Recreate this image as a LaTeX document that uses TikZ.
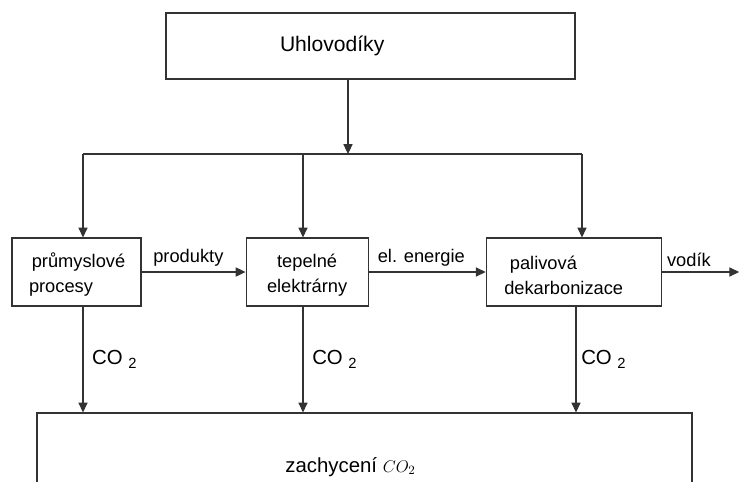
\documentclass[tikz,border=0pt]{standalone}
\usepackage{fontspec}
\setmainfont{Liberation Sans}
\usepackage{tikz}
\usetikzlibrary{positioning,arrows.meta}
\tikzstyle{block} = [rectangle, draw=black!80, line width=0.8pt, minimum height=1.7cm, font=\fontsize{13}{18}\selectfont]
\tikzstyle{arrow} = [line width=0.8pt, draw=black!80, -{Triangle[length=7pt,width=6.5pt]}]
\tikzstyle{line} = [line width=0.8pt, draw=black!80]
\tikzstyle{flowlabel} = [font=\fontsize{13}{16}\selectfont]
\tikzstyle{colabel} = [font=\fontsize{14.5}{17}\selectfont, xshift=0.1cm]
\newcommand{\cotwo}{CO \raisebox{-2.6pt}{\fontsize{10.5}{12}\selectfont 2}}

\begin{document}
\begin{tikzpicture}
\useasboundingbox (0,0) rectangle (18.5,-12.025);
\clip (0,0) rectangle (18.5,-12.025);
% boxes
\node (hc) [block, minimum width=10.225cm, minimum height=1.65cm, inner xsep=0pt, text width=10.225cm, align=left, font=\fontsize{15}{18}\selectfont] at (9.2625,-1.15) {\hspace*{2.85cm}Uhlovodíky};
\node (pp) [block, minimum width=3.225cm, inner xsep=0.425cm, text width=2.375cm, align=left, text height=14pt] at (1.9125,-6.8) {\hspace*{2pt}průmyslové\\procesy};
\node (te) [block, minimum width=3.05cm, inner xsep=0.3cm, text width=2.45cm, align=center, text height=14pt, right=2.6cm of pp] {tepelné\\elektrárny};
\node (pd) [block, minimum width=4.375cm, inner xsep=0.45cm, text width=3.475cm, align=left, text height=14pt, right=2.925cm of te] {\hspace*{4pt}palivová\\dekarbonizace};
\node (zc) [block, minimum width=16.375cm, minimum height=2.7cm, font=\fontsize{14.5}{18}\selectfont] at (9.1125,-11.675) {zachycení {\fontsize{13}{16}\selectfont$CO_2$}\hspace*{0.7cm}};
% branch points
\coordinate (busC) at (8.7,-3.85);
\coordinate (busL) at (2.075,-3.85);
\coordinate (busM) at (7.575,-3.85);
\coordinate (busR) at (14.55,-3.85);
\coordinate (coR) at (14.4,-3.85);
\coordinate (out) at (18.48,-6.8);
% connectors
\draw[arrow] (busC |- hc.south) -- (busC);
\draw[line] (busL) -- (busR);
\draw[arrow] (busL) -- (busL |- pp.north);
\draw[arrow] (busM) -- (busM |- te.north);
\draw[arrow] (busR) -- (busR |- pd.north);
\draw[arrow] (pp) -- node[flowlabel, above, pos=0.45]{produkty} (te);
\draw[arrow] (te) -- node[flowlabel, above, pos=0.45]{el. energie} (pd);
\draw[arrow] (pd) -- node[flowlabel, above, pos=0.35]{vodík} (out);
\draw[arrow] (busL |- pp.south) -- node[colabel, right]{\cotwo} (busL |- zc.north);
\draw[arrow] (busM |- te.south) -- node[colabel, right]{\cotwo} (busM |- zc.north);
\draw[arrow] (coR |- pd.south) -- node[colabel, right, xshift=-0.1cm]{\cotwo} (coR |- zc.north);
\end{tikzpicture}
\end{document}
